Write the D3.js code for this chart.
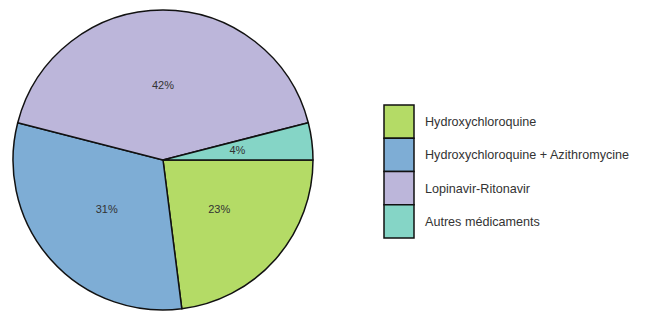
<!DOCTYPE html>
<html>
<head>
<meta charset="utf-8">
<script src="https://cdn.jsdelivr.net/npm/d3@7"></script>
<style>
  body { margin: 0; background: #fff; }
  text { font-family: "Liberation Sans", Arial, sans-serif; fill: #333; }
</style>
</head>
<body>
<svg id="chart" width="647" height="312"></svg>
<script>
// treatments and their share (%)
const categories = ['Hydroxychloroquine', 'Hydroxychloroquine + Azithromycine', 'Lopinavir-Ritonavir', 'Autres médicaments'];
const values = [23, 31, 42, 4];
const colors = ['#b4db66', '#7eadd5', '#bcb6da', '#85d5c6'];

const svg = d3.select('#chart');
const cx = 163, cy = 160, radius = 150;

const color = d3.scaleOrdinal().domain(categories).range(colors);

// start at 3 o'clock, go clockwise
const pie = d3.pie()
  .sort(null)
  .value(function(d) { return d.value; })
  .startAngle(Math.PI / 2)
  .endAngle(Math.PI / 2 + 2 * Math.PI);

const data = categories.map(function(c, i) { return { name: c, value: values[i] }; });
const arcs = pie(data);

const arc = d3.arc().innerRadius(0).outerRadius(radius);
const labelArc = d3.arc().innerRadius(radius / 2).outerRadius(radius / 2);

const g = svg.append('g').attr('transform', 'translate(' + cx + ',' + cy + ')');

g.selectAll('path')
  .data(arcs)
  .enter()
  .append('path')
  .attr('d', arc)
  .attr('fill', function(d) { return color(d.data.name); })
  .attr('stroke', '#111')
  .attr('stroke-width', 1.5)
  .attr('stroke-linejoin', 'round');

g.selectAll('text.pct')
  .data(arcs)
  .enter()
  .append('text')
  .attr('class', 'pct')
  .attr('transform', function(d) { return 'translate(' + labelArc.centroid(d) + ')'; })
  .attr('text-anchor', 'middle')
  .attr('dy', '0.35em')
  .style('font-size', '11px')
  .text(function(d) { return d.data.value + '%'; });

// legend
const boxY = d3.scaleBand().domain(categories).range([105, 238]);

const legend = svg.append('g');

legend.selectAll('rect')
  .data(categories)
  .enter()
  .append('rect')
  .attr('x', 384)
  .attr('y', function(d) { return boxY(d); })
  .attr('width', 30)
  .attr('height', boxY.bandwidth())
  .attr('fill', function(d) { return color(d); })
  .attr('stroke', '#111')
  .attr('stroke-width', 1.5);

legend.selectAll('text')
  .data(categories)
  .enter()
  .append('text')
  .attr('x', 425)
  .attr('y', function(d) { return boxY(d) + boxY.bandwidth() / 2; })
  .attr('dy', '0.35em')
  .style('font-size', '12.6px')
  .text(function(d) { return d; });
</script>
</body>
</html>
